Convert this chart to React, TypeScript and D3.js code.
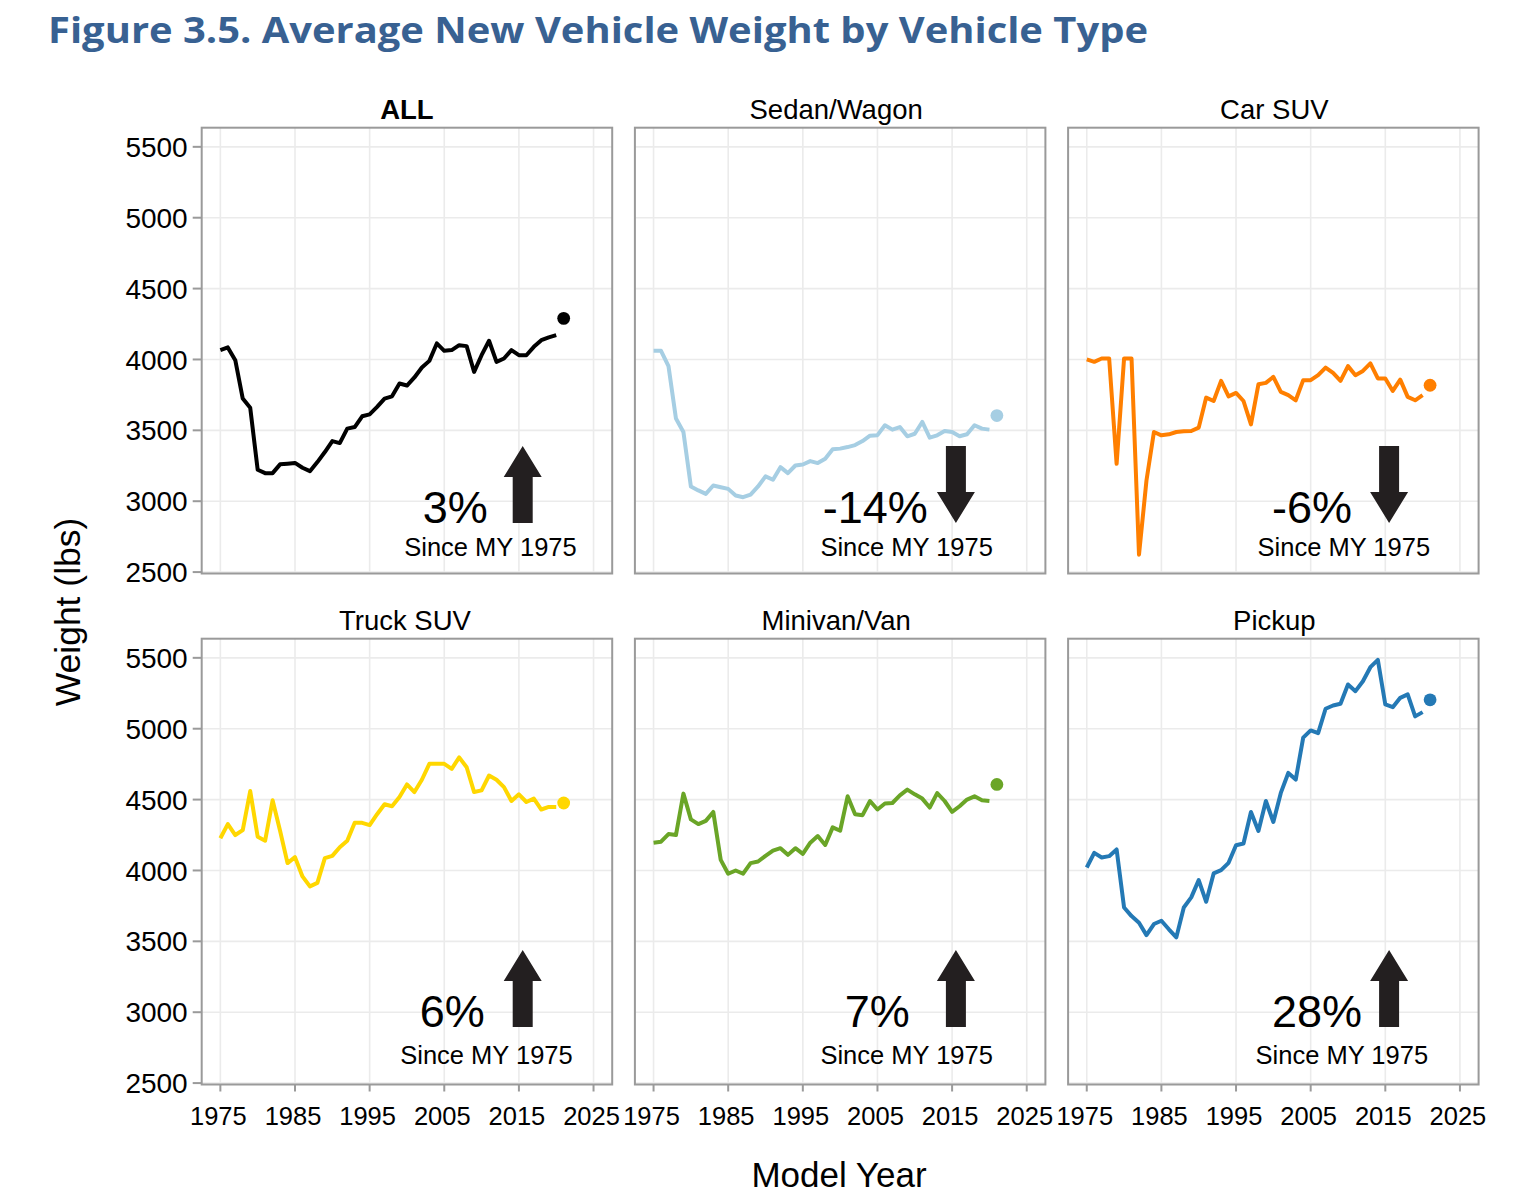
import React from "react";
import * as d3 from "d3";

// ---------- DATA ----------
const firstYear = 1975;
const prelimYear = 2021;
const panelNames = ["ALL", "Sedan/Wagon", "Car SUV", "Truck SUV", "Minivan/Van", "Pickup"];
const panelColors = ["#000000", "#a6cee3", "#ff7f00", "#ffd700", "#6aa527", "#2479b5"];

const allWeight = [4066, 4085, 3995, 3724, 3660, 3222, 3198, 3198, 3260, 3265, 3270, 3236, 3212, 3276, 3347, 3424, 3410, 3512, 3523, 3599, 3613, 3665, 3724, 3740, 3830, 3816, 3873, 3943, 3990, 4113, 4061, 4066, 4101, 4094, 3912, 4030, 4132, 3983, 4007, 4066, 4030, 4030, 4089, 4136, 4156, 4172];
const sedanWeight = [4061, 4061, 3953, 3583, 3488, 3104, 3076, 3052, 3111, 3099, 3087, 3040, 3028, 3047, 3104, 3175, 3151, 3240, 3198, 3252, 3259, 3283, 3269, 3300, 3366, 3371, 3382, 3396, 3424, 3462, 3466, 3536, 3505, 3523, 3458, 3476, 3559, 3448, 3465, 3495, 3488, 3458, 3472, 3536, 3512, 3505];
const carSuvWeight = [4000, 3983, 4007, 4007, 3264, 4007, 4007, 2623, 3146, 3488, 3465, 3472, 3488, 3493, 3495, 3519, 3731, 3707, 3849, 3740, 3764, 3707, 3542, 3825, 3835, 3877, 3771, 3748, 3712, 3854, 3854, 3889, 3943, 3905, 3849, 3953, 3889, 3919, 3972, 3866, 3866, 3778, 3858, 3736, 3712, 3748];
const truckSuvWeight = [4227, 4327, 4250, 4285, 4560, 4238, 4210, 4495, 4280, 4052, 4094, 3958, 3888, 3912, 4087, 4103, 4164, 4210, 4336, 4336, 4320, 4397, 4467, 4453, 4518, 4607, 4553, 4640, 4752, 4752, 4752, 4717, 4798, 4728, 4553, 4565, 4670, 4640, 4588, 4490, 4537, 4483, 4507, 4430, 4448, 4448];
const minivanWeight = [4196, 4203, 4257, 4250, 4542, 4360, 4327, 4350, 4413, 4075, 3977, 4000, 3977, 4052, 4063, 4103, 4140, 4157, 4110, 4157, 4117, 4196, 4243, 4180, 4304, 4280, 4523, 4397, 4390, 4490, 4430, 4472, 4476, 4530, 4570, 4537, 4507, 4444, 4546, 4490, 4413, 4453, 4500, 4523, 4495, 4490];
const pickupWeight = [4021, 4124, 4092, 4101, 4148, 3739, 3678, 3631, 3544, 3622, 3645, 3585, 3528, 3739, 3810, 3932, 3779, 3979, 4002, 4054, 4178, 4190, 4413, 4279, 4490, 4342, 4547, 4688, 4641, 4937, 4988, 4969, 5141, 5164, 5176, 5312, 5265, 5335, 5434, 5486, 5171, 5152, 5218, 5242, 5087, 5117];
const prelimWeight = [4290, 3604, 3818, 4476, 4607, 5204];

const changeLabels = ["3%", "-14%", "-6%", "6%", "7%", "28%"];
const changeUp = [true, false, false, true, true, true];

const yTicks = [2500, 3000, 3500, 4000, 4500, 5000, 5500];
const xTicks = [1975, 1985, 1995, 2005, 2015, 2025];

const titleText = "Figure 3.5. Average New Vehicle Weight by Vehicle Type";
const xTitle = "Model Year";
const yTitle = "Weight (lbs)";
const sinceText = "Since MY 1975";

// ---------- LAYOUT ----------
const W = 1524;
const H = 1204;
const panelLefts = [201.7, 634.9, 1068.1];
const panelTops = [127.7, 638.7];
const panelW = 410.5;
const panelH = 445.8;
const bigTextEnd = [286, 293, 284, 283, 275, 294];
const sinceEnd = [375, 358, 362, 371, 358, 360];
const stripShift = [0, -4, 1, -2, -4, 1];
const arrowCx = 321;
const FONT = "'Liberation Sans', Arial, Helvetica, sans-serif";

const seriesList = [allWeight, sedanWeight, carSuvWeight, truckSuvWeight, minivanWeight, pickupWeight];

function Arrow({ cx, bottom, up }: { cx: number; bottom: number; up: boolean }) {
  const total = 77;
  const headH = 31;
  const headHW = 19;
  const shaftHW = 10;
  let pts: [number, number][];
  if (up) {
    const tip = bottom - total;
    const base = tip + headH;
    pts = [
      [cx - shaftHW, bottom], [cx - shaftHW, base], [cx - headHW, base], [cx, tip],
      [cx + headHW, base], [cx + shaftHW, base], [cx + shaftHW, bottom],
    ];
  } else {
    const top = bottom - total;
    const base = bottom - headH;
    pts = [
      [cx - shaftHW, top], [cx - shaftHW, base], [cx - headHW, base], [cx, bottom],
      [cx + headHW, base], [cx + shaftHW, base], [cx + shaftHW, top],
    ];
  }
  return <polygon points={pts.map((p) => p.join(",")).join(" ")} fill="#231f20" />;
}

function Panel({ idx }: { idx: number }) {
  const col = idx % 3;
  const row = Math.floor(idx / 3);
  const left = panelLefts[col];
  const top = panelTops[row];
  const x = d3.scaleLinear().domain([1972.5, 2027.5]).range([left, left + panelW]);
  const y = d3.scaleLinear().domain([2490, 5635]).range([top + panelH, top]);
  const values = seriesList[idx];
  const pts = values.map((v, i) => [firstYear + i, v] as [number, number]);
  const line = d3.line<[number, number]>().x((d) => x(d[0])).y((d) => y(d[1]))(pts) || "";
  const bottom = top + panelH;
  const bigBase = row === 0 ? bottom - 50.5 : bottom - 57.5;
  const sinceBase = row === 0 ? bottom - 17.5 : bottom - 21;
  return (
    <g>
      <rect x={left} y={top} width={panelW} height={panelH} fill="#ffffff" />
      {xTicks.map((t) => (
        <line key={"gx" + t} x1={x(t)} x2={x(t)} y1={top} y2={bottom} stroke="#ebebeb" strokeWidth={1.6} />
      ))}
      {yTicks.map((t) => (
        <line key={"gy" + t} x1={left} x2={left + panelW} y1={y(t)} y2={y(t)} stroke="#ebebeb" strokeWidth={1.6} />
      ))}
      <path d={line} fill="none" stroke={panelColors[idx]} strokeWidth={4} strokeLinejoin="round" strokeLinecap="butt" />
      <circle cx={x(prelimYear)} cy={y(prelimWeight[idx])} r={6.4} fill={panelColors[idx]} />
      <text x={left + bigTextEnd[idx]} y={bigBase} textAnchor="end" fontFamily={FONT} fontSize={45} fill="#000">
        {changeLabels[idx]}
      </text>
      <Arrow cx={left + arrowCx} bottom={bigBase} up={changeUp[idx]} />
      <text x={left + sinceEnd[idx]} y={sinceBase} textAnchor="end" fontFamily={FONT} fontSize={25.5} fill="#000">
        {sinceText}
      </text>
      <rect x={left} y={top} width={panelW} height={panelH} fill="none" stroke="#9a9a9a" strokeWidth={2} />
      <text x={left + panelW / 2 + stripShift[idx]} y={top - 9} textAnchor="middle" fontFamily={FONT} fontSize={27.5}
        fontWeight={idx === 0 ? 700 : 400} fill="#000">
        {panelNames[idx]}
      </text>
      {col === 0 &&
        yTicks.map((t) => (
          <g key={"yt" + t}>
            <line x1={left - 9} x2={left} y1={y(t)} y2={y(t)} stroke="#9a9a9a" strokeWidth={2} />
            <text x={left - 14} y={y(t)} dy="0.36em" textAnchor="end" fontFamily={FONT} fontSize={28} fill="#000">
              {t}
            </text>
          </g>
        ))}
      {row === 1 &&
        xTicks.map((t) => (
          <g key={"xt" + t}>
            <line x1={x(t)} x2={x(t)} y1={bottom} y2={bottom + 7} stroke="#9a9a9a" strokeWidth={2} />
            <text x={x(t) - 2} y={bottom + 40} textAnchor="middle" fontFamily={FONT} fontSize={25.5} fill="#000">
              {t}
            </text>
          </g>
        ))}
    </g>
  );
}

export default function App() {
  return (
    <svg width={W} height={H} viewBox={`0 0 ${W} ${H}`}
      style={{ position: "absolute", left: 0, top: 0, background: "#ffffff" }}>
      <rect x={0} y={0} width={W} height={H} fill="#ffffff" />
      <text x={48} y={43} fontFamily="'Open Sans', 'Noto Sans', sans-serif" fontWeight={700} fontSize={36}
        fill="#386192" textLength={1100} lengthAdjust="spacingAndGlyphs">
        {titleText}
      </text>
      {panelNames.map((_, i) => (
        <Panel key={i} idx={i} />
      ))}
      <text x={839} y={1187} textAnchor="middle" fontFamily={FONT} fontSize={35} fill="#000">
        {xTitle}
      </text>
      <text transform="translate(80,612) rotate(-90)" textAnchor="middle" fontFamily={FONT} fontSize={35.5} fill="#000">
        {yTitle}
      </text>
    </svg>
  );
}
